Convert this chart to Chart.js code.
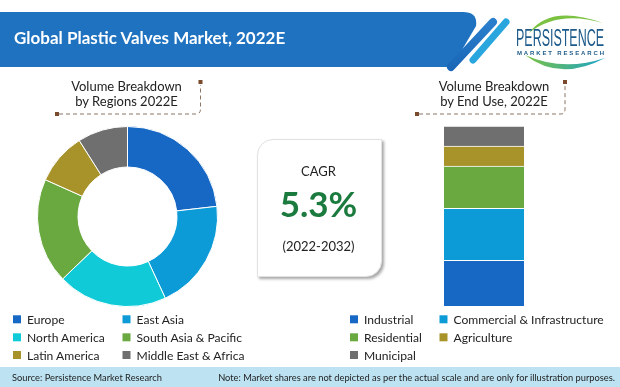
<!DOCTYPE html>
<html lang="en">
<head>
  <meta charset="UTF-8" />
  <title>Global Plastic Valves Market, 2022E</title>
  <script src="https://cdn.jsdelivr.net/npm/chart.js"></script>
  <style>
    body { margin: 0; background: #fff; }
    .page { position: relative; width: 620px; height: 387px; overflow: hidden; background: #fff; font-family: Lato, sans-serif; }
    .page canvas { position: absolute; }
    #overlay { position: absolute; left: 0; top: 0; pointer-events: none; }
    .cagr-box {
      position: absolute; left: 257px; top: 139px; width: 123px; height: 136px;
      background: #fff; border: 1px solid #e2e2e2;
      border-radius: 16px 0 16px 0;
      box-shadow: 2px 2px 3px rgba(0,0,0,0.35);
    }
  </style>
</head>
<body>
<div class="page">
  <div class="cagr-box"></div>
  <canvas id="regionChart" width="181" height="181" style="left:37px; top:126px;"></canvas>
  <canvas id="endUseChart" width="80" height="180" style="left:444px; top:126px;"></canvas>

  <svg id="overlay" width="620" height="387" xmlns="http://www.w3.org/2000/svg">
    <defs>
      <linearGradient id="stripeDark" x1="0" y1="0" x2="0" y2="1">
        <stop offset="0" stop-color="#2a7fcc"/>
        <stop offset="1" stop-color="#1a67b8"/>
      </linearGradient>
      <linearGradient id="swoosh" x1="0" y1="0" x2="1" y2="0">
        <stop offset="0" stop-color="#7cc242"/>
        <stop offset="1" stop-color="#1aa3c9"/>
      </linearGradient>
    </defs>

    <!-- header banner -->
    <path d="M0,12 H463 Q478,12 476,26 L452,67 H0 Z" fill="#1f72bf"/>
    <line x1="493" y1="22" x2="451" y2="67" stroke="url(#stripeDark)" stroke-width="8" stroke-linecap="round"/>
    <line x1="506" y1="22" x2="473" y2="60" stroke="#2aa6df" stroke-width="7" stroke-linecap="round"/>
    <text x="14" y="44" fill="#fff" font-family="Lato" font-weight="bold" font-size="17">Global Plastic Valves Market, 2022E</text>

    <!-- logo -->
    <path d="M529,33 Q550,4 603,23 Q558,10 529,33 Z" fill="#7cc242"/>
    <path d="M525,55 Q560,82 605,58 Q563,72 525,55 Z" fill="url(#swoosh)"/>
    <text transform="translate(516,45.5) scale(1,1.6)" x="0" y="0" fill="#1d5a89" font-family="Liberation Sans Narrow, Liberation Sans" font-size="14.5" textLength="88" lengthAdjust="spacingAndGlyphs">PERSISTENCE</text>
    <text x="517" y="54.5" fill="#1d5a89" font-family="Liberation Sans" font-weight="bold" font-size="6" textLength="87" lengthAdjust="spacing">MARKET RESEARCH</text>

    <!-- section headings -->
    <g font-family="Lato" font-size="13" fill="#222" text-anchor="middle">
      <text x="126.5" y="90.5">Volume Breakdown</text>
      <text x="126.5" y="105.5">by Regions 2022E</text>
      <text x="494" y="90.5">Volume Breakdown</text>
      <text x="494" y="105.5">by End Use, 2022E</text>
    </g>
    <g stroke="#8c7767" stroke-width="1" stroke-dasharray="4,3" fill="none">
      <path d="M59,114 H196 Q200.5,114 200.5,109 V85"/>
      <path d="M419,114 H561 Q565,114 565,109 V85"/>
    </g>
    <g fill="#7a4a2c">
      <rect x="55" y="112" width="4" height="4"/>
      <rect x="198.5" y="80" width="4" height="4"/>
      <rect x="415" y="112" width="4" height="4"/>
      <rect x="563" y="80" width="4" height="4"/>
    </g>

    <!-- CAGR -->
    <g text-anchor="middle" font-family="Lato">
      <text x="318.5" y="175.5" font-size="13" fill="#222">CAGR</text>
      <text x="318.5" y="216.5" font-size="35" font-weight="bold" fill="#1b7a3e">5.3%</text>
      <text x="318.5" y="251" font-size="13" fill="#222">(2022-2032)</text>
    </g>

    <g id="legends" font-family="Lato" font-size="12.1" fill="#222"></g>

    <!-- footer -->
    <rect x="0" y="367" width="620" height="20" fill="#bde3f3"/>
    <g font-family="Lato" font-size="9.3" fill="#222">
      <text x="12" y="380.5">Source: Persistence Market Research</text>
      <text x="615" y="380.5" text-anchor="end">Note: Market shares are not depicted as per the actual scale and are only for illustration purposes.</text>
    </g>
  </svg>
</div>

<script>
const regionLabels = ['Europe', 'East Asia', 'North America', 'South Asia & Pacific', 'Latin America', 'Middle East & Africa'];
const regionShares = [23.2, 19.9, 19.7, 18.9, 9.3, 9.0];
const regionColors = ['#1768c4', '#0d9bd8', '#10cbd7', '#6aa940', '#a8932a', '#6f6f6f'];

// end use split (%), bottom segment first
const endUseLabels = ['Industrial', 'Commercial & Infrastructure', 'Residential', 'Agriculture', 'Municipal'];
const endUseShares = [25.4, 28.9, 23.5, 11.1, 11.1];
const endUseColors = ['#1768c4', '#0d9bd8', '#6aa940', '#a8932a', '#6f6f6f'];

new Chart(document.getElementById('regionChart'), {
  type: 'doughnut',
  data: {
    labels: regionLabels,
    datasets: [{
      data: regionShares,
      backgroundColor: regionColors,
      borderColor: '#ffffff',
      borderWidth: 1,
      offset: 0,
      hoverOffset: 0
    }]
  },
  options: {
    responsive: false,
    animation: false,
    cutout: '55%',
    layout: { padding: 0 },
    plugins: { legend: { display: false }, tooltip: { enabled: false } }
  }
});

new Chart(document.getElementById('endUseChart'), {
  type: 'bar',
  data: {
    labels: ['2022E'],
    datasets: endUseLabels.map((name, i) => ({
      label: name,
      data: [endUseShares[i]],
      backgroundColor: endUseColors[i],
      borderColor: '#ffffff',
      borderWidth: { top: 1, bottom: 0, left: 0, right: 0 },
      borderSkipped: false,
      barPercentage: 1,
      categoryPercentage: 1
    }))
  },
  options: {
    responsive: false,
    animation: false,
    layout: { padding: 0 },
    scales: {
      x: { display: false, stacked: true },
      y: { display: false, stacked: true, min: 0, max: 100 }
    },
    plugins: { legend: { display: false }, tooltip: { enabled: false } }
  }
});

// legends: two columns, filled row by row
function buildLegend(labels, colors, colX, rowY) {
  const g = document.getElementById('legends');
  const ns = 'http://www.w3.org/2000/svg';
  labels.forEach((name, i) => {
    const x = colX[i % 2], y = rowY[Math.floor(i / 2)];
    const r = document.createElementNS(ns, 'rect');
    r.setAttribute('x', x); r.setAttribute('y', y - 4);
    r.setAttribute('width', 8); r.setAttribute('height', 8);
    r.setAttribute('fill', colors[i]);
    g.appendChild(r);
    const t = document.createElementNS(ns, 'text');
    t.setAttribute('x', x + 14); t.setAttribute('y', y + 4.5);
    t.textContent = name;
    g.appendChild(t);
  });
}
buildLegend(regionLabels, regionColors, [13, 122.5], [319.3, 337.3, 355]);
buildLegend(endUseLabels, endUseColors, [350, 439.5], [319.3, 337.3, 355]);
</script>
</body>
</html>
